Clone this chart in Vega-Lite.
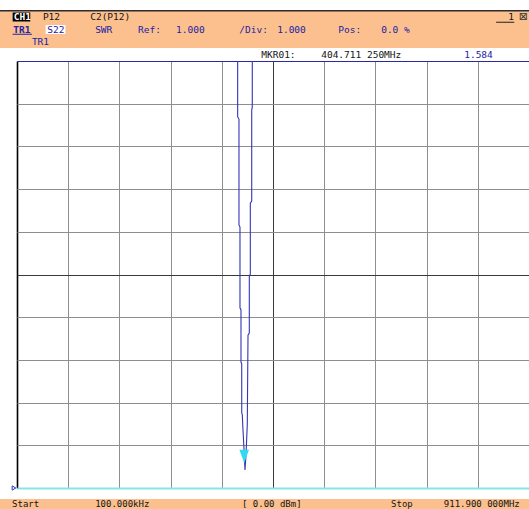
{
  "$schema": "https://vega.github.io/schema/vega-lite/v6.json",
  "background": "#ffffff",
  "padding": {"top": 10, "left": 0, "right": 0, "bottom": 0},
  "bounds": "flush",
  "spacing": 0,
  "config": {
    "view": {"stroke": null},
    "text": {"font": "DejaVu Sans Mono", "fontSize": 9.5},
    "concat": {"spacing": 0}
  },
  "datasets": {
    "hdrText": [
      {"c": 2.5, "r": 1, "t": "CH1", "k": "badge"},
      {"c": 7.8, "r": 1, "t": "P12", "k": "plain"},
      {"c": 16.4, "r": 1, "t": "C2(P12)", "k": "plain"},
      {"c": 92.4, "r": 1, "t": "1", "k": "plain"},
      {"c": 94.3, "r": 1, "t": "⊠", "k": "box"},
      {"c": 2.4, "r": 2, "t": "TR1", "k": "trace"},
      {"c": 8.6, "r": 2, "t": "S22", "k": "param"},
      {"c": 17.3, "r": 2, "t": "SWR", "k": "param"},
      {"c": 25.1, "r": 2, "t": "Ref:", "k": "param"},
      {"c": 32.0, "r": 2, "t": "1.000", "k": "param"},
      {"c": 43.5, "r": 2, "t": "/Div:", "k": "param"},
      {"c": 50.4, "r": 2, "t": "1.000", "k": "param"},
      {"c": 61.5, "r": 2, "t": "Pos:", "k": "param"},
      {"c": 69.3, "r": 2, "t": "0.0 %", "k": "param"},
      {"c": 5.8, "r": 3, "t": "TR1", "k": "param"}
    ],
    "hdrBand": [
      {"c0": 2.3, "c1": 5.5, "r": 1, "k": "dark"},
      {"c0": 8.3, "c1": 11.9, "r": 2, "k": "light"}
    ],
    "hdrLine": [
      {"c0": 2.3, "c1": 5.8, "r": 2.38, "k": "param"},
      {"c0": 90.2, "c1": 93.5, "r": 1.42, "k": "plain"}
    ],
    "mkr": [
      {"c": 47.5, "t": "MKR01:", "k": "plain"},
      {"c": 58.4, "t": "404.711 250MHz", "k": "plain"},
      {"c": 84.4, "t": "1.584", "k": "param"}
    ],
    "foot": [
      {"c": 2.2, "t": "Start"},
      {"c": 17.3, "t": "100.000kHz"},
      {"c": 44.0, "t": "[  0.00 dBm]"},
      {"c": 71.1, "t": "Stop"},
      {"c": 80.7, "t": "911.900 000MHz"}
    ],
    "trace": [
      {"i": 1, "f": 393.0, "swr": 13.0},
      {"i": 2, "f": 393.1, "swr": 9.69},
      {"i": 3, "f": 395.4, "swr": 9.64},
      {"i": 4, "f": 395.4, "swr": 7.16},
      {"i": 5, "f": 397.2, "swr": 7.11},
      {"i": 6, "f": 397.2, "swr": 5.22},
      {"i": 7, "f": 399.0, "swr": 5.17},
      {"i": 8, "f": 399.0, "swr": 3.95},
      {"i": 9, "f": 400.3, "swr": 3.90},
      {"i": 10, "f": 400.3, "swr": 2.76},
      {"i": 11, "f": 401.3, "swr": 2.72},
      {"i": 12, "f": 402.2, "swr": 2.45},
      {"i": 13, "f": 404.6, "swr": 1.85},
      {"i": 14, "f": 406.1, "swr": 1.42},
      {"i": 15, "f": 407.9, "swr": 1.77},
      {"i": 16, "f": 410.2, "swr": 2.48},
      {"i": 17, "f": 411.5, "swr": 4.58},
      {"i": 18, "f": 413.8, "swr": 4.63},
      {"i": 19, "f": 413.8, "swr": 5.96},
      {"i": 20, "f": 415.6, "swr": 6.01},
      {"i": 21, "f": 415.6, "swr": 7.67},
      {"i": 22, "f": 418.1, "swr": 7.72},
      {"i": 23, "f": 418.1, "swr": 9.85},
      {"i": 24, "f": 419.1, "swr": 9.92},
      {"i": 25, "f": 419.2, "swr": 13.0}
    ],
    "marker": [{"f": 404.711, "swr": 1.584}]
  },
  "vconcat": [
    {
      "width": 529,
      "height": 38,
      "view": {"fill": "#fbc08e", "stroke": null},
      "layer": [
        {
          "data": {"values": [{}]},
          "mark": {"type": "rule", "color": "#2b2b2b", "strokeWidth": 1.5, "clip": true},
          "encoding": {"y": {"datum": 0.5, "type": "quantitative", "scale": {"domain": [0.44, 3.48], "reverse": true, "nice": false, "zero": false}, "axis": null}}
        },
        {
          "data": {"name": "hdrBand"},
          "transform": [{"filter": "datum.k == 'dark'"}],
          "mark": {"type": "rule", "strokeWidth": 9, "strokeCap": "butt", "color": "#000000"},
          "encoding": {
            "x": {"field": "c0", "type": "quantitative", "scale": {"domain": [0, 96.18], "nice": false, "zero": false}, "axis": null},
            "x2": {"field": "c1"},
            "y": {"field": "r", "type": "quantitative", "scale": {"domain": [0.44, 3.48], "reverse": true, "nice": false, "zero": false}, "axis": null}
          }
        },
        {
          "data": {"name": "hdrBand"},
          "transform": [{"filter": "datum.k == 'light'"}],
          "mark": {"type": "rule", "strokeWidth": 9, "strokeCap": "butt", "color": "#ffffff"},
          "encoding": {
            "x": {"field": "c0", "type": "quantitative", "axis": null},
            "x2": {"field": "c1"},
            "y": {"field": "r", "type": "quantitative", "axis": null}
          }
        },
        {
          "data": {"name": "hdrLine"},
          "transform": [{"filter": "datum.k == 'param'"}],
          "mark": {"type": "rule", "strokeWidth": 1, "color": "#2222a6"},
          "encoding": {
            "x": {"field": "c0", "type": "quantitative", "axis": null},
            "x2": {"field": "c1"},
            "y": {"field": "r", "type": "quantitative", "axis": null}
          }
        },
        {
          "data": {"name": "hdrLine"},
          "transform": [{"filter": "datum.k == 'plain'"}],
          "mark": {"type": "rule", "strokeWidth": 1, "color": "#222222"},
          "encoding": {
            "x": {"field": "c0", "type": "quantitative", "axis": null},
            "x2": {"field": "c1"},
            "y": {"field": "r", "type": "quantitative", "axis": null}
          }
        },
        {
          "data": {"name": "hdrText"},
          "transform": [{"filter": "datum.k == 'badge'"}],
          "mark": {"type": "text", "align": "left", "baseline": "middle", "clip": true, "color": "#ffffff", "fontWeight": "bold"},
          "encoding": {
            "x": {"field": "c", "type": "quantitative", "axis": null},
            "y": {"field": "r", "type": "quantitative", "axis": null},
            "text": {"field": "t"}
          }
        },
        {
          "data": {"name": "hdrText"},
          "transform": [{"filter": "datum.k == 'plain'"}],
          "mark": {"type": "text", "align": "left", "baseline": "middle", "clip": true, "color": "#141414"},
          "encoding": {
            "x": {"field": "c", "type": "quantitative", "axis": null},
            "y": {"field": "r", "type": "quantitative", "axis": null},
            "text": {"field": "t"}
          }
        },
        {
          "data": {"name": "hdrText"},
          "transform": [{"filter": "datum.k == 'param'"}],
          "mark": {"type": "text", "align": "left", "baseline": "middle", "clip": true, "color": "#2222a6"},
          "encoding": {
            "x": {"field": "c", "type": "quantitative", "axis": null},
            "y": {"field": "r", "type": "quantitative", "axis": null},
            "text": {"field": "t"}
          }
        },
        {
          "data": {"name": "hdrText"},
          "transform": [{"filter": "datum.k == 'trace'"}],
          "mark": {"type": "text", "align": "left", "baseline": "middle", "clip": true, "color": "#2222a6", "fontWeight": "bold"},
          "encoding": {
            "x": {"field": "c", "type": "quantitative", "axis": null},
            "y": {"field": "r", "type": "quantitative", "axis": null},
            "text": {"field": "t"}
          }
        },
        {
          "data": {"name": "hdrText"},
          "transform": [{"filter": "datum.k == 'box'"}],
          "mark": {"type": "text", "align": "left", "baseline": "middle", "clip": true, "color": "#333333", "font": "DejaVu Sans", "fontSize": 11},
          "encoding": {
            "x": {"field": "c", "type": "quantitative", "axis": null},
            "y": {"field": "r", "type": "quantitative", "axis": null},
            "text": {"field": "t"}
          }
        }
      ]
    },
    {
      "width": 529,
      "height": 13,
      "data": {"name": "mkr"},
      "layer": [
        {
          "transform": [{"filter": "datum.k == 'plain'"}],
          "mark": {"type": "text", "align": "left", "baseline": "middle", "clip": true, "color": "#141414"},
          "encoding": {
            "x": {"field": "c", "type": "quantitative", "scale": {"domain": [0, 96.18], "nice": false, "zero": false}, "axis": null},
            "text": {"field": "t"}
          }
        },
        {
          "transform": [{"filter": "datum.k == 'param'"}],
          "mark": {"type": "text", "align": "left", "baseline": "middle", "clip": true, "color": "#2222a6"},
          "encoding": {
            "x": {"field": "c", "type": "quantitative", "axis": null},
            "text": {"field": "t"}
          }
        }
      ]
    },
    {
      "width": 529,
      "height": 427,
      "layer": [
        {
          "data": {"name": "trace"},
          "mark": {"type": "line", "clip": true, "color": "#3434b4", "strokeWidth": 1.1},
          "encoding": {
            "x": {
              "field": "f", "type": "quantitative",
              "scale": {"domain": [0.1, 911.9], "range": [17, 529], "nice": false, "zero": false},
              "axis": {
                "values": [0.1, 91.28, 182.46, 273.64, 364.82, 456.0, 547.18, 638.36, 729.54, 820.72],
                "grid": true, "labels": false, "ticks": false, "domain": false, "title": null,
                "gridColor": {"condition": [{"test": "datum.value < 1", "value": "#000000"}, {"test": "abs(datum.value - 456) < 1", "value": "#3a3a3a"}], "value": "#8e8e8e"},
                "gridWidth": {"condition": {"test": "datum.value < 1", "value": 1.6}, "value": 1}
              }
            },
            "y": {
              "field": "swr", "type": "quantitative",
              "scale": {"domain": [1, 11], "nice": false, "zero": false},
              "axis": {
                "values": [1, 2, 3, 4, 5, 6, 7, 8, 9, 10, 11],
                "grid": true, "labels": false, "ticks": false, "domain": false, "title": null,
                "gridColor": {"condition": [{"test": "datum.value == 1", "value": "#86e4ec"}, {"test": "datum.value == 11", "value": "#2a2aa0"}, {"test": "datum.value == 6", "value": "#3a3a3a"}], "value": "#8e8e8e"},
                "gridWidth": {"condition": {"test": "datum.value == 1", "value": 2}, "value": 1}
              }
            },
            "order": {"field": "i", "type": "quantitative"}
          }
        },
        {
          "data": {"name": "marker"},
          "mark": {"type": "point", "shape": "M-0.8,-2.2L0.8,-2.2L0,0Z", "filled": true, "size": 144, "color": "#33d9f2", "opacity": 1},
          "encoding": {
            "x": {"field": "f", "type": "quantitative"},
            "y": {"field": "swr", "type": "quantitative"}
          }
        },
        {
          "data": {"values": [{}]},
          "mark": {"type": "point", "shape": "triangle-right", "size": 18, "filled": false, "color": "#3030c0", "strokeWidth": 1, "xOffset": -3, "opacity": 1},
          "encoding": {
            "x": {"datum": 0.1, "type": "quantitative"},
            "y": {"datum": 1, "type": "quantitative"}
          }
        }
      ]
    },
    {"width": 529, "height": 11, "data": {"values": []}, "mark": "point"},
    {
      "width": 529,
      "height": 10,
      "view": {"fill": "#fbc08e", "stroke": null},
      "data": {"name": "foot"},
      "mark": {"type": "text", "align": "left", "baseline": "middle", "fontSize": 9, "clip": true, "color": "#141414"},
      "encoding": {
        "x": {"field": "c", "type": "quantitative", "scale": {"domain": [0, 96.18], "nice": false, "zero": false}, "axis": null},
        "text": {"field": "t"}
      }
    }
  ]
}
